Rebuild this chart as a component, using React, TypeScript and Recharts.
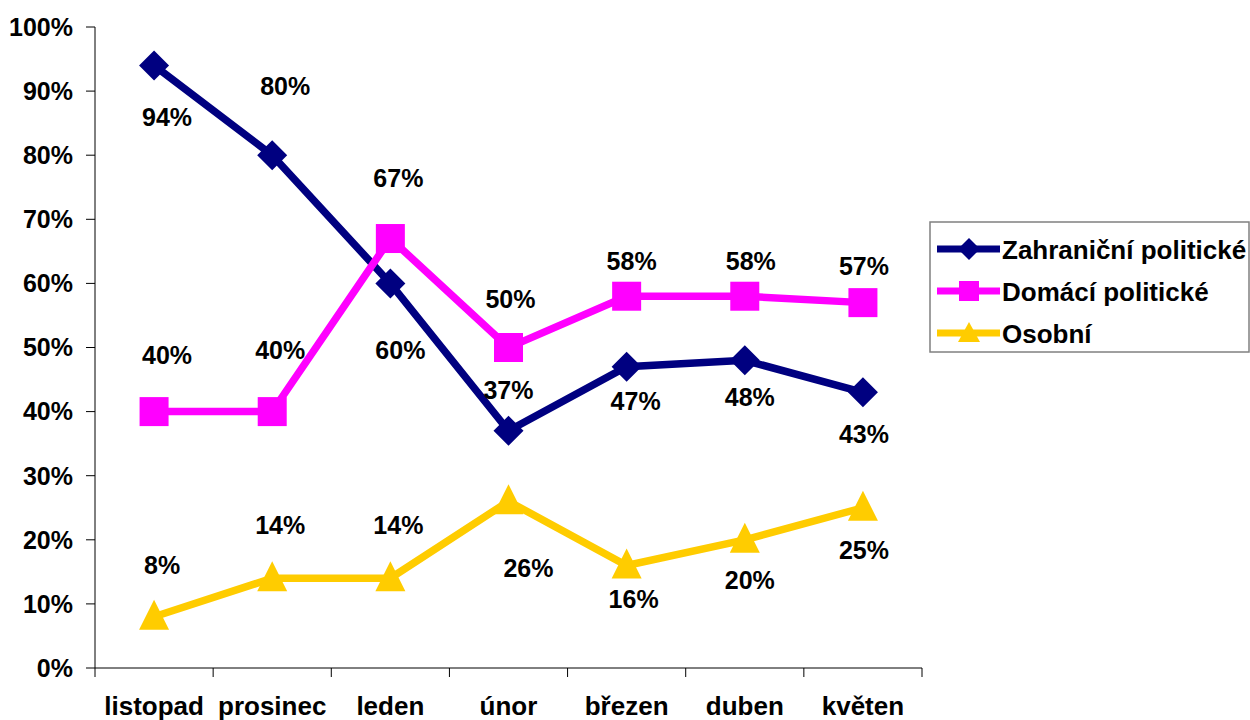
import { LineChart, Line, XAxis, YAxis, LabelList } from "recharts";

const months = ["listopad", "prosinec", "leden", "únor", "březen", "duben", "květen"];
const zahranicni = [94, 80, 60, 37, 47, 48, 43];
const domaci = [40, 40, 67, 50, 58, 58, 57];
const osobni = [8, 14, 14, 26, 16, 20, 25];
const yTicks = [0, 10, 20, 30, 40, 50, 60, 70, 80, 90, 100];

// label placement (dx, dy from the point), like the hand-moved Excel labels
const zahranicniLabelPos = [[13, 52], [13, -69], [10, 67], [0, -41], [9, 34], [5, 37], [1, 42]];
const domaciLabelPos = [[13, -57], [8, -62], [8, -61], [2, -49], [5, -35], [6, -35], [1, -37]];
const osobniLabelPos = [[8, -52], [8, -53], [8, -53], [20, 67], [7, 34], [5, 40], [1, 42]];

const data = months.map((m, i) => ({
  x: i + 0.5,
  month: m,
  zahranicni: zahranicni[i],
  domaci: domaci[i],
  osobni: osobni[i],
}));

const NAVY = "#000080";
const PINK = "#FF00FF";
const GOLD = "#FFCC00";
const FONT = "Liberation Sans, Arial, sans-serif";
const LINE_W = 7.5;

const Diamond = (props: any) => {
  const { cx, cy } = props;
  if (cx == null || cy == null) return null;
  const r = 15;
  return (
    <polygon
      points={`${cx},${cy - r} ${cx + r},${cy} ${cx},${cy + r} ${cx - r},${cy}`}
      fill={NAVY}
    />
  );
};

const Square = (props: any) => {
  const { cx, cy } = props;
  if (cx == null || cy == null) return null;
  return <rect x={cx - 14.5} y={cy - 14.5} width={29} height={29} fill={PINK} />;
};

const Triangle = (props: any) => {
  const { cx, cy } = props;
  if (cx == null || cy == null) return null;
  return (
    <polygon
      points={`${cx},${cy - 17} ${cx + 15},${cy + 13} ${cx - 15},${cy + 13}`}
      fill={GOLD}
    />
  );
};

const makeLabel = (pos: number[][]) => (props: any) => {
  const { x, y, value, index } = props;
  const [dx, dy] = pos[index];
  return (
    <text
      x={x + dx}
      y={y + dy}
      textAnchor="middle"
      dominantBaseline="central"
      fontFamily={FONT}
      fontWeight="bold"
      fontSize={25}
      fill="#000"
    >
      {value}%
    </text>
  );
};

const XTick = (props: any) => {
  const { x, y, payload } = props;
  const v = payload.value;
  if (Number.isInteger(v)) {
    return <line x1={x} x2={x} y1={y - 8} y2={y + 1} stroke="#000" strokeWidth={1} />;
  }
  const idx = Math.floor(v);
  return (
    <text
      x={x}
      y={y + 30}
      textAnchor="middle"
      dominantBaseline="central"
      fontFamily={FONT}
      fontWeight="bold"
      fontSize={26}
      fill="#000"
    >
      {months[idx]}
    </text>
  );
};

const xTicks = [0, 0.5, 1, 1.5, 2, 2.5, 3, 3.5, 4, 4.5, 5, 5.5, 6, 6.5, 7];

const legendItems = [
  { name: "Zahraniční politické", color: NAVY, marker: "diamond" },
  { name: "Domácí politické", color: PINK, marker: "square" },
  { name: "Osobní", color: GOLD, marker: "triangle" },
];

function LegendBox() {
  return (
    <svg
      width={322}
      height={134}
      style={{ position: "absolute", left: 929, top: 221 }}
    >
      <rect x={1} y={1} width={319} height={130} fill="#fff" stroke="#808080" strokeWidth={1.5} />
      {legendItems.map((it, i) => {
        const cy = 28 + i * 42;
        const cx = 40;
        return (
          <g key={it.name}>
            <line x1={8} x2={71} y1={cy} y2={cy} stroke={it.color} strokeWidth={7} />
            {it.marker === "diamond" && (
              <polygon points={`${cx},${cy - 11} ${cx + 11},${cy} ${cx},${cy + 11} ${cx - 11},${cy}`} fill={it.color} />
            )}
            {it.marker === "square" && (
              <rect x={cx - 10} y={cy - 10} width={20} height={20} fill={it.color} />
            )}
            {it.marker === "triangle" && (
              <polygon points={`${cx},${cy - 11} ${cx + 11},${cy + 9} ${cx - 11},${cy + 9}`} fill={it.color} />
            )}
            <text
              x={73}
              y={cy + 1}
              dominantBaseline="central"
              fontFamily={FONT}
              fontWeight="bold"
              fontSize={26}
              fill="#000"
            >
              {it.name}
            </text>
          </g>
        );
      })}
    </svg>
  );
}

export default function App() {
  return (
    <div style={{ position: "absolute", left: 0, top: 0, width: 1250, height: 720, background: "#fff" }}>
      <LineChart
        width={1250}
        height={720}
        data={data}
        margin={{ top: 27, right: 328, left: 0, bottom: 0 }}
      >
        <XAxis
          type="number"
          dataKey="x"
          domain={[0, 7]}
          ticks={xTicks}
          interval={0}
          tickLine={false}
          axisLine={{ stroke: "#000", strokeWidth: 1 }}
          tick={<XTick />}
          height={52}
        />
        <YAxis
          domain={[0, 100]}
          ticks={yTicks}
          interval={0}
          width={95}
          tickSize={9}
          tickLine={{ stroke: "#000" }}
          axisLine={{ stroke: "#000", strokeWidth: 1 }}
          tickFormatter={(v) => `${v}%`}
          tick={{ fontFamily: FONT, fontWeight: "bold", fontSize: 25, fill: "#000", dx: -11 }}
        />
        <Line
          dataKey="zahranicni"
          stroke={NAVY}
          strokeWidth={LINE_W}
          dot={<Diamond />}
          isAnimationActive={false}
        >
          <LabelList dataKey="zahranicni" content={makeLabel(zahranicniLabelPos)} />
        </Line>
        <Line
          dataKey="domaci"
          stroke={PINK}
          strokeWidth={LINE_W}
          dot={<Square />}
          isAnimationActive={false}
        >
          <LabelList dataKey="domaci" content={makeLabel(domaciLabelPos)} />
        </Line>
        <Line
          dataKey="osobni"
          stroke={GOLD}
          strokeWidth={LINE_W}
          dot={<Triangle />}
          isAnimationActive={false}
        >
          <LabelList dataKey="osobni" content={makeLabel(osobniLabelPos)} />
        </Line>
      </LineChart>
      <LegendBox />
    </div>
  );
}
